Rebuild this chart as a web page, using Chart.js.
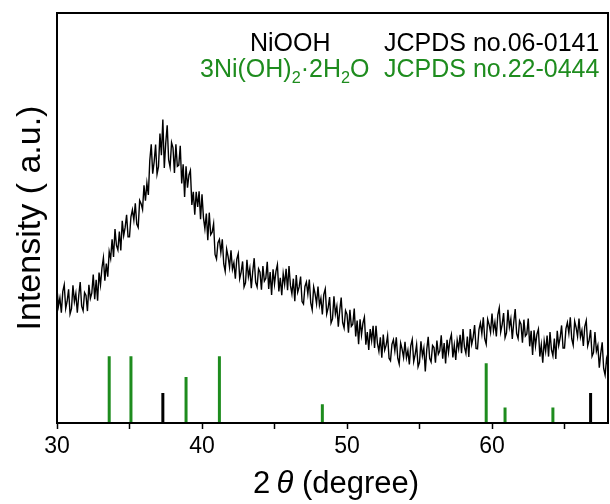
<!DOCTYPE html>
<html>
<head>
<meta charset="utf-8">
<script src="https://cdn.jsdelivr.net/npm/chart.js@4.4.1/dist/chart.umd.min.js"></script>
<style>
  html, body { margin: 0; padding: 0; background: #fff; }
  canvas { display: block; }
</style>
</head>
<body>
<canvas id="xrdChart" width="610" height="504"></canvas>
<script>
// 2theta grid of the measured pattern (degrees)
const twoThetaStart = 30;
const twoThetaStep = 0.1;
const intensity = [
    32.8, 28.5, 30.5, 26.9, 32.1, 33.7, 27.9, 29.7, 32.6, 26.6,
    27.9, 33.6, 29.6, 31.6, 26.9, 31.1, 34.4, 28.5, 27.4, 31.8,
    31.1, 27.3, 33.7, 30.4, 31.7, 36.2, 30.2, 34.9, 29.8, 36.7,
    33.7, 37.8, 40.3, 34.7, 38.9, 35.7, 41.8, 40.1, 44.8, 40.5,
    47.3, 43.3, 42.2, 46.7, 42.1, 49.3, 45.7, 47.7, 50.8, 45.4,
    45.4, 50.3, 52.0, 49.5, 53.6, 48.5, 47.7, 54.3, 53.5, 52.1,
    58.0, 54.2, 58.5, 55.6, 64.1, 68.0, 60.8, 63.7, 67.9, 60.7,
    62.5, 70.6, 65.3, 74.0, 62.2, 68.3, 72.6, 64.2, 62.4, 68.4,
    67.1, 61.0, 68.0, 62.6, 62.9, 67.6, 58.4, 63.1, 55.1, 62.6,
    57.4, 60.5, 61.6, 53.2, 56.4, 50.8, 56.4, 52.7, 56.5, 49.7,
    55.8, 50.1, 47.4, 51.1, 44.6, 51.3, 45.9, 46.5, 48.6, 41.1,
    40.0, 44.0, 44.8, 41.6, 44.8, 38.8, 37.0, 42.4, 40.6, 38.0,
    42.1, 37.5, 39.1, 35.2, 40.0, 41.3, 35.2, 36.8, 39.4, 33.2,
    34.2, 39.8, 35.7, 37.7, 32.9, 37.0, 40.2, 34.3, 33.2, 37.6,
    36.8, 32.5, 38.3, 34.6, 35.3, 39.3, 32.7, 36.8, 31.2, 37.5,
    33.9, 37.0, 38.6, 32.1, 35.4, 31.2, 36.4, 33.8, 37.6, 32.4,
    38.3, 33.5, 31.5, 35.2, 29.7, 36.1, 31.9, 33.2, 35.7, 29.6,
    29.0, 33.3, 34.4, 31.5, 35.0, 29.3, 27.6, 33.2, 31.5, 29.1,
    33.3, 28.7, 30.4, 26.5, 31.4, 32.7, 26.6, 28.1, 30.7, 24.4,
    25.4, 30.9, 26.6, 28.5, 23.5, 27.5, 30.6, 24.5, 23.2, 27.4,
    26.5, 22.0, 27.6, 23.6, 24.1, 27.9, 21.1, 25.0, 19.2, 25.3,
    21.5, 24.4, 25.8, 19.1, 22.2, 17.8, 22.9, 20.1, 23.7, 18.3,
    23.7, 19.4, 17.5, 20.9, 15.9, 21.6, 17.8, 19.0, 21.3, 15.8,
    15.2, 19.2, 20.3, 17.6, 20.9, 15.8, 14.4, 19.5, 18.0, 16.0,
    19.8, 15.9, 17.7, 14.3, 18.9, 20.4, 15.0, 16.7, 19.1, 13.7,
    14.8, 19.9, 16.4, 18.3, 12.6, 17.9, 21.0, 15.8, 14.9, 18.9,
    18.4, 14.7, 20.1, 16.8, 17.6, 21.4, 15.7, 19.5, 14.5, 20.3,
    17.2, 20.2, 21.6, 16.0, 19.0, 15.4, 20.2, 18.1, 21.5, 17.0,
    22.9, 18.5, 17.0, 21.1, 16.1, 22.9, 19.2, 20.9, 23.9, 18.2,
    18.1, 22.8, 24.4, 21.8, 25.8, 20.5, 19.2, 25.3, 24.0, 22.1,
    26.7, 22.5, 24.6, 21.1, 26.4, 28.1, 22.2, 24.0, 26.8, 20.8,
    22.0, 27.6, 23.4, 25.4, 20.5, 24.6, 27.8, 21.8, 20.6, 24.9,
    24.1, 19.6, 25.2, 21.2, 21.7, 25.5, 18.7, 22.5, 16.6, 22.6,
    18.8, 21.7, 22.9, 16.2, 19.1, 14.7, 20.0, 17.5, 21.3, 16.2,
    22.2, 17.9, 16.4, 20.6, 15.6, 22.5, 18.9, 20.8, 23.8, 18.3,
    18.3, 23.0, 24.5, 21.9, 25.8, 20.5, 19.0, 24.8, 23.3, 21.1,
    25.5, 21.0, 22.6, 18.8, 23.6, 25.0, 18.8, 20.2, 22.7, 16.3,
    17.2, 22.2, 17.5, 18.9, 13.5, 17.0, 19.7, 13.3, 11.7, 15.6,
    13.9
];

// JCPDS reference lines
const niooh_angles = [37.3, 66.8];
const niooh_heights = [7.3, 7.3];
const hydrate_angles = [33.6, 35.1, 38.9, 41.2, 48.3, 59.6, 60.9, 64.2];
const hydrate_heights = [16.3, 16.3, 11.2, 16.3, 4.6, 14.6, 3.8, 3.8];

const xTicks = [30, 40, 50, 60];

const GREEN = '#1e8c1e';
const FONT = '"Liberation Sans", Arial, sans-serif';

const pattern = intensity.map((v, i) => ({x: twoThetaStart + i * twoThetaStep, y: v}));

// vertical sticks, split with null so the line breaks between them
function sticks(angles, heights) {
    const pts = [];
    angles.forEach((a, i) => {
        pts.push({x: a, y: 0}, {x: a, y: heights[i]}, {x: a, y: null});
    });
    return pts;
}

const frame = {
    id: 'frame',
    afterDraw(chart) {
        const {ctx, chartArea: a} = chart;
        ctx.save();
        ctx.strokeStyle = '#000';
        ctx.lineWidth = 2;
        ctx.strokeRect(a.left, a.top, a.right - a.left, a.bottom - a.top);
        ctx.restore();
    }
};

// draws runs of text, some parts as subscripts or italic
function drawRuns(ctx, runs, x, y, size, color) {
    ctx.fillStyle = color;
    ctx.textBaseline = 'alphabetic';
    ctx.textAlign = 'left';
    runs.forEach(r => {
        const s = r.sub ? size * 0.65 : size;
        ctx.font = (r.it ? 'italic ' : '') + s + 'px ' + FONT;
        ctx.fillText(r.t, x, r.sub ? y + size * 0.25 : y);
        x += ctx.measureText(r.t).width;
    });
}

const phaseLabels = {
    id: 'phaseLabels',
    afterDraw(chart) {
        const ctx = chart.ctx;
        ctx.save();
        drawRuns(ctx, [{t: 'NiOOH'}], 250, 51, 25, '#000');
        drawRuns(ctx, [{t: 'JCPDS no.06-0141'}], 384, 51, 25, '#000');
        drawRuns(ctx, [{t: '3Ni(OH)'}, {t: '2', sub: true}, {t: '\u00b72H'}, {t: '2', sub: true}, {t: 'O'}], 200, 77, 25, GREEN);
        drawRuns(ctx, [{t: 'JCPDS no.22-0444'}], 384, 77, 25, GREEN);
        // x axis title with italic theta
        drawRuns(ctx, [{t: '2\u2009'}, {t: '\u03b8', it: true}, {t: ' (degree)'}], 253, 493, 31, '#000');
        ctx.restore();
    }
};

const xrdChart = new Chart(document.getElementById('xrdChart'), {
    type: 'line',
    data: {
        datasets: [{
            label: 'XRD',
            data: pattern,
            borderColor: '#000',
            borderWidth: 1.4,
            pointRadius: 0,
            tension: 0,
        }, {
            label: 'NiOOH JCPDS no.06-0141',
            data: sticks(niooh_angles, niooh_heights),
            borderColor: '#000',
            borderWidth: 3,
            pointRadius: 0,
            spanGaps: false,
        }, {
            label: '3Ni(OH)2·2H2O JCPDS no.22-0444',
            data: sticks(hydrate_angles, hydrate_heights),
            borderColor: GREEN,
            borderWidth: 3,
            pointRadius: 0,
            spanGaps: false,
        }]
    },
    options: {
        responsive: false,
        animation: false,
        devicePixelRatio: 1,
        layout: {padding: {top: 13, right: 2, left: 0, bottom: 0}},
        scales: {
            x: {
                type: 'linear',
                min: 30,
                max: 68,
                afterFit: (s) => { s.height = 81; },
                ticks: {
                    stepSize: 5,
                    includeBounds: false,
                    autoSkip: false,
                    maxRotation: 0,
                    color: '#000',
                    padding: 4,
                    font: {family: FONT, size: 23},
                    callback: (v) => xTicks.includes(v) ? String(v) : '',
                },
                grid: {
                    drawOnChartArea: false,
                    tickLength: 6,
                    tickColor: '#000',
                    tickWidth: 1.5,
                },
                border: {color: '#000', width: 2},
            },
            y: {
                min: 0,
                max: 100,
                afterFit: (s) => { s.width = 57; },
                ticks: {display: false},
                grid: {display: false},
                border: {color: '#000', width: 2},
                title: {
                    display: true,
                    text: 'Intensity ( a.u.)',
                    color: '#000',
                    font: {family: FONT, size: 34},
                    padding: {top: 10, bottom: 0},
                },
            },
        },
        plugins: {
            legend: {display: false},
            tooltip: {enabled: false},
        },
    },
    plugins: [frame, phaseLabels]
});
</script>
</body>
</html>
